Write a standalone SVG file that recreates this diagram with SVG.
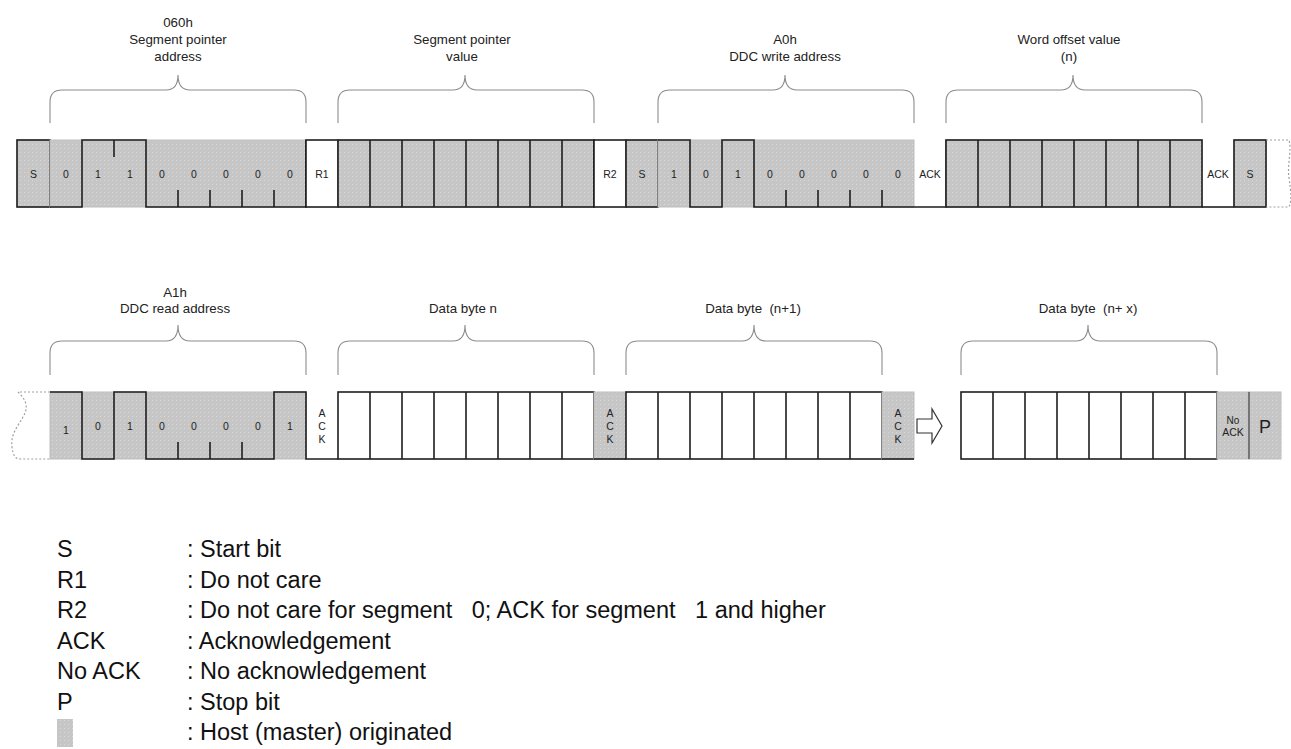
<svg xmlns="http://www.w3.org/2000/svg" width="1291" height="749" viewBox="0 0 1291 749">
<defs>
<pattern id="dots" width="4" height="4" patternUnits="userSpaceOnUse">
<rect width="4" height="4" fill="#c6c6c6"/>
<rect width="1" height="1" fill="#d8d8d8"/>
</pattern>
<style>
.g{fill:url(#dots);stroke:#bdbdbd;stroke-width:1}
.ln{fill:none;stroke:#1e1e1e;stroke-width:1.6}
.wb{fill:#fff;stroke:#1e1e1e;stroke-width:1.6}
.br{fill:none;stroke:#8c8c8c;stroke-width:1.1}
.ds{fill:none;stroke:#a0a0a0;stroke-width:1.2;stroke-dasharray:2 2}
.t{font-family:"Liberation Sans",Arial,sans-serif;font-size:13.3px;fill:#222;text-anchor:middle;white-space:pre}
.b{font-family:"Liberation Sans",Arial,sans-serif;font-size:10.5px;fill:#222;text-anchor:middle}
.lg{font-family:"Liberation Sans",Arial,sans-serif;font-size:23.5px;fill:#111;white-space:pre}
</style>
</defs>
<rect width="1291" height="749" fill="#fff"/>

<g id="braces">
<path class="br" d="M50,123 V102 Q50,90 62,90 H166 C174,90 178,85 178,75 C178,85 182,90 190,90 H294 Q306,90 306,102 V123"/>
<path class="br" d="M338,123 V102 Q338,90 350,90 H453 C461,90 465,85 465,75 C465,85 469,90 477,90 H582 Q594,90 594,102 V123"/>
<path class="br" d="M658,123 V102 Q658,90 670,90 H773 C781,90 785,85 785,75 C785,85 789,90 797,90 H902 Q914,90 914,102 V123"/>
<path class="br" d="M946,123 V102 Q946,90 958,90 H1061 C1069,90 1073,85 1073,75 C1073,85 1077,90 1085,90 H1190 Q1202,90 1202,102 V123"/>
<path class="br" d="M50,375 V353 Q50,341 62,341 H166 C174,341 178,336 178,325 C178,336 182,341 190,341 H294 Q306,341 306,353 V375"/>
<path class="br" d="M338,375 V353 Q338,341 350,341 H453 C461,341 465,336 465,325 C465,336 469,341 477,341 H582 Q594,341 594,353 V375"/>
<path class="br" d="M626,375 V353 Q626,341 638,341 H742 C750,341 754,336 754,325 C754,336 758,341 766,341 H870 Q882,341 882,353 V375"/>
<path class="br" d="M961,375 V353 Q961,341 973,341 H1076 C1084,341 1088,336 1088,325 C1088,336 1092,341 1100,341 H1205 Q1217,341 1217,353 V375"/>
</g>
<g id="titles">
<text class="t" x="178" y="26.5">060h</text>
<text class="t" x="178" y="43.5">Segment pointer</text>
<text class="t" x="178" y="60.5">address</text>
<text class="t" x="462" y="43.5">Segment pointer</text>
<text class="t" x="462" y="60.5">value</text>
<text class="t" x="785" y="43.5">A0h</text>
<text class="t" x="785" y="60.5">DDC write address</text>
<text class="t" x="1069" y="43.5">Word offset value</text>
<text class="t" x="1069" y="60.5">(n)</text>
<text class="t" x="175" y="296.5">A1h</text>
<text class="t" x="175" y="312.5">DDC read address</text>
<text class="t" x="463" y="312.5">Data byte n</text>
<text class="t" x="753" y="312.5">Data byte  (n+1)</text>
<text class="t" x="1088" y="312.5">Data byte  (n+ x)</text>
</g>

<g id="start1">
<rect class="g" x="17" y="140" width="33" height="67"/>
<rect class="ln" x="17" y="140" width="33" height="67"/>
<text class="b" x="33.5" y="178">S</text>
</g>
<g id="seg-addr">
<rect class="g" x="50" y="140" width="256" height="67"/>
<path class="ln" d="M50,207 H82 V140 H146 V207 H306 V140 M114,140 V157 M178,207 V190 M210,207 V190 M242,207 V190 M274,207 V190"/>
<text class="b" x="66" y="178">0</text>
<text class="b" x="98" y="178">1</text>
<text class="b" x="130" y="178">1</text>
<text class="b" x="162" y="178">0</text>
<text class="b" x="194" y="178">0</text>
<text class="b" x="226" y="178">0</text>
<text class="b" x="258" y="178">0</text>
<text class="b" x="290" y="178">0</text>
</g>
<g id="r1">
<rect class="wb" x="306" y="140" width="32" height="67"/>
<text class="b" x="322" y="178">R1</text>
</g>
<g id="seg-value">
<rect class="g" x="338" y="140" width="256" height="67"/>
<rect class="ln" x="338" y="140" width="256" height="67"/>
<path class="ln" d="M370,140 V207 M402,140 V207 M434,140 V207 M466,140 V207 M498,140 V207 M530,140 V207 M562,140 V207"/>
</g>
<g id="r2">
<rect class="wb" x="594" y="140" width="32" height="67"/>
<text class="b" x="610" y="178">R2</text>
</g>
<g id="start2">
<rect class="g" x="626" y="140" width="32" height="67"/>
<rect class="ln" x="626" y="140" width="32" height="67"/>
<text class="b" x="642" y="178">S</text>
</g>
<g id="ddc-write">
<rect class="g" x="658" y="140" width="256" height="67"/>
<path class="ln" d="M658,140 H690 V207 H722 V140 H754 V207 H946 V140 M786,207 V190 M818,207 V190 M850,207 V190 M882,207 V190"/>
<text class="b" x="674" y="178">1</text>
<text class="b" x="706" y="178">0</text>
<text class="b" x="738" y="178">1</text>
<text class="b" x="770" y="178">0</text>
<text class="b" x="802" y="178">0</text>
<text class="b" x="834" y="178">0</text>
<text class="b" x="866" y="178">0</text>
<text class="b" x="898" y="178">0</text>
</g>
<g id="ack1">
<text class="b" x="930" y="178">ACK</text>
</g>
<g id="word-offset">
<rect class="g" x="946" y="140" width="256" height="67"/>
<rect class="ln" x="946" y="140" width="256" height="67"/>
<path class="ln" d="M978,140 V207 M1010,140 V207 M1042,140 V207 M1074,140 V207 M1106,140 V207 M1138,140 V207 M1170,140 V207"/>
</g>
<g id="ack2">
<path class="ln" d="M1202,207 H1234"/>
<text class="b" x="1218" y="178">ACK</text>
</g>
<g id="start3">
<rect class="g" x="1234" y="140" width="32" height="67"/>
<rect class="ln" x="1234" y="140" width="32" height="67"/>
<text class="b" x="1250" y="178">S</text>
<path class="ds" d="M1266,140 H1289 C1292,150 1287,165 1289,178 C1291,192 1292,200 1289,207 H1266"/>
</g>

<g id="ddc-read">
<path class="ds" d="M50,392 H18 C22,396 29,403 25,413 C21,423 10,432 12,447 C13,455 15,459 20,459 H50"/>
<rect class="g" x="50" y="392" width="256" height="67"/>
<path class="ln" d="M50,392 H82 V459 H114 V392 H146 V459 H274 V392 H306 V459 H338 M178,459 V442 M210,459 V442 M242,459 V442"/>
<text class="b" x="66" y="434">1</text>
<text class="b" x="98" y="430">0</text>
<text class="b" x="130" y="430">1</text>
<text class="b" x="162" y="430">0</text>
<text class="b" x="194" y="430">0</text>
<text class="b" x="226" y="430">0</text>
<text class="b" x="258" y="430">0</text>
<text class="b" x="290" y="430">1</text>
</g>
<g id="ack3">
<text class="b" x="322" y="416.5">A</text>
<text class="b" x="322" y="430">C</text>
<text class="b" x="322" y="443">K</text>
</g>
<g id="data-n">
<rect class="wb" x="338" y="392" width="256" height="67"/>
<path class="ln" d="M370,392 V459 M402,392 V459 M434,392 V459 M466,392 V459 M498,392 V459 M530,392 V459 M562,392 V459"/>
</g>
<g id="ack4">
<rect class="g" x="594" y="392" width="32" height="67"/>
<path class="ln" d="M594,459 H626"/>
<text class="b" x="610" y="416.5">A</text>
<text class="b" x="610" y="430">C</text>
<text class="b" x="610" y="443">K</text>
</g>
<g id="data-n1">
<rect class="wb" x="626" y="392" width="256" height="67"/>
<path class="ln" d="M658,392 V459 M690,392 V459 M722,392 V459 M754,392 V459 M786,392 V459 M818,392 V459 M850,392 V459"/>
</g>
<g id="ack5">
<rect class="g" x="882" y="392" width="32" height="67"/>
<path class="ln" d="M882,459 H914"/>
<text class="b" x="898" y="416.5">A</text>
<text class="b" x="898" y="430">C</text>
<text class="b" x="898" y="443">K</text>
</g>
<g id="connectors">
<path d="M917,419 H932 V409 L942,426 L932,443 V433 H917 Z" fill="#fff" stroke="#333" stroke-width="1.2"/>
</g>
<g id="data-nx">
<rect class="wb" x="961" y="392" width="256" height="67"/>
<path class="ln" d="M993,392 V459 M1025,392 V459 M1057,392 V459 M1089,392 V459 M1121,392 V459 M1153,392 V459 M1185,392 V459"/>
</g>
<g id="noack">
<rect class="g" x="1217" y="392" width="32" height="67"/>
<text class="b" x="1233" y="424" style="font-size:10px">No</text>
<text class="b" x="1233" y="436">ACK</text>
</g>
<g id="stop">
<rect class="g" x="1249" y="392" width="32" height="67"/>
<path d="M1249,392 V459" stroke="#555" stroke-width="1.4"/>
<text class="b" x="1265" y="433" style="font-size:18px">P</text>
</g>

<g id="legend">
<text class="lg" x="57" y="557">S</text>
<text class="lg" x="187" y="557">: Start bit</text>
<text class="lg" x="57" y="587.5">R1</text>
<text class="lg" x="187" y="587.5">: Do not care</text>
<text class="lg" x="57" y="618">R2</text>
<text class="lg" x="187" y="618">: Do not care for segment   0; ACK for segment   1 and higher</text>
<text class="lg" x="57" y="648.5">ACK</text>
<text class="lg" x="187" y="648.5">: Acknowledgement</text>
<text class="lg" x="57" y="679">No ACK</text>
<text class="lg" x="187" y="679">: No acknowledgement</text>
<text class="lg" x="57" y="709.5">P</text>
<text class="lg" x="187" y="709.5">: Stop bit</text>
<rect x="57" y="719" width="16" height="28" fill="url(#dots)"/>
<text class="lg" x="187" y="740">: Host (master) originated</text>
</g>
</svg>
